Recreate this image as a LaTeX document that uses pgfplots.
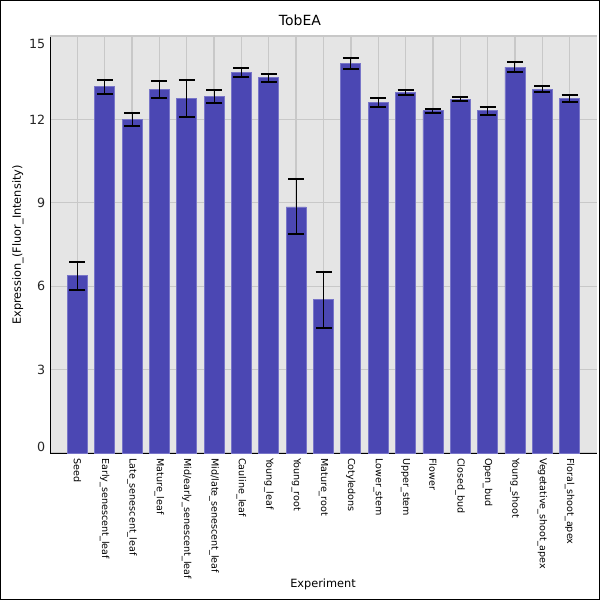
\documentclass[border=0pt]{standalone}
\usepackage{pgfplots}
\pgfplotsset{compat=1.18}
\usepackage{fontspec}
\setmainfont{DejaVu Sans}
\definecolor{barblue}{RGB}{75,71,179}
\definecolor{baredge}{RGB}{120,117,200}
\definecolor{bggray}{RGB}{229,229,229}
\definecolor{gridgray}{RGB}{200,200,200}
\begin{document}
\begin{tikzpicture}
\path[use as bounding box] (0pt,0pt) rectangle (450pt,450pt);
\draw[black, line width=0.75pt] (0.375pt,0.375pt) rectangle (449.625pt,449.625pt);
\begin{axis}[
  at={(37.5pt,109.5pt)}, anchor=south west,
  scale only axis, width=410.25pt, height=313.5pt,
  xmin=-1, xmax=19, ymin=-0.036, ymax=15,
  axis x line*=bottom, axis y line*=left,
  axis line style={black, line width=0.75pt},
  axis background/.style={fill=bggray},
  grid=major, major grid style={gridgray, line width=1pt},
  major tick length=0pt,
  xtick={0,...,18},
  xticklabels={Seed,Early\_senescent\_leaf,Late\_senescent\_leaf,Mature\_leaf,Mid/early\_senescent\_leaf,Mid/late\_senescent\_leaf,Cauline\_leaf,Young\_leaf,Young\_root,Mature\_root,Cotyledons,Lower\_stem,Upper\_stem,Flower,Closed\_bud,Open\_bud,Young\_shoot,Vegetative\_shoot\_apex,Floral\_shoot\_apex},
  xticklabel style={rotate=-90, anchor=west, font=\fontsize{7.2}{8}\selectfont, inner sep=1pt, xshift=2pt},
  ytick={0,3,6,9,12},
  yticklabels={\raisebox{4.5pt}[\height][\depth]{0},3,6,9,12},
  extra y ticks={15},
  extra y tick labels={\raisebox{-6pt}[\height][\depth]{15}},
  yticklabel style={font=\fontsize{9.5}{11}\selectfont, text=black!85},
  /pgf/number format/assume math mode=true,
  clip=false,
]
\addplot[ybar, bar width=15pt, fill=barblue, draw=baredge, line width=0.6pt,
  error bars/.cd, y dir=both, y explicit,
  error bar style={black, line width=0.8pt},
  error mark options={black, line width=1.5pt, mark size=6pt, rotate=90}]
  table[x=x, y=y, y error=e] {
x y e
0 6.38 0.50
1 13.17 0.26
2 11.99 0.24
3 13.07 0.30
4 12.75 0.67
5 12.81 0.23
6 13.68 0.17
7 13.50 0.14
8 8.85 0.99
9 5.51 1.01
10 14.00 0.20
11 12.60 0.17
12 12.96 0.08
13 12.31 0.08
14 12.73 0.07
15 12.31 0.14
16 13.88 0.17
17 13.09 0.10
18 12.74 0.12
};
\end{axis}
\node[font=\fontsize{10.5}{12}\selectfont] at (225pt,435pt) {TobEA};
\node[font=\fontsize{8.5}{10}\selectfont, rotate=90] at (13.5pt,266.25pt) {Expression\_(Fluor\_Intensity)};
\node[font=\fontsize{8.5}{10}\selectfont] at (242.25pt,12pt) {Experiment};
\end{tikzpicture}
\end{document}
